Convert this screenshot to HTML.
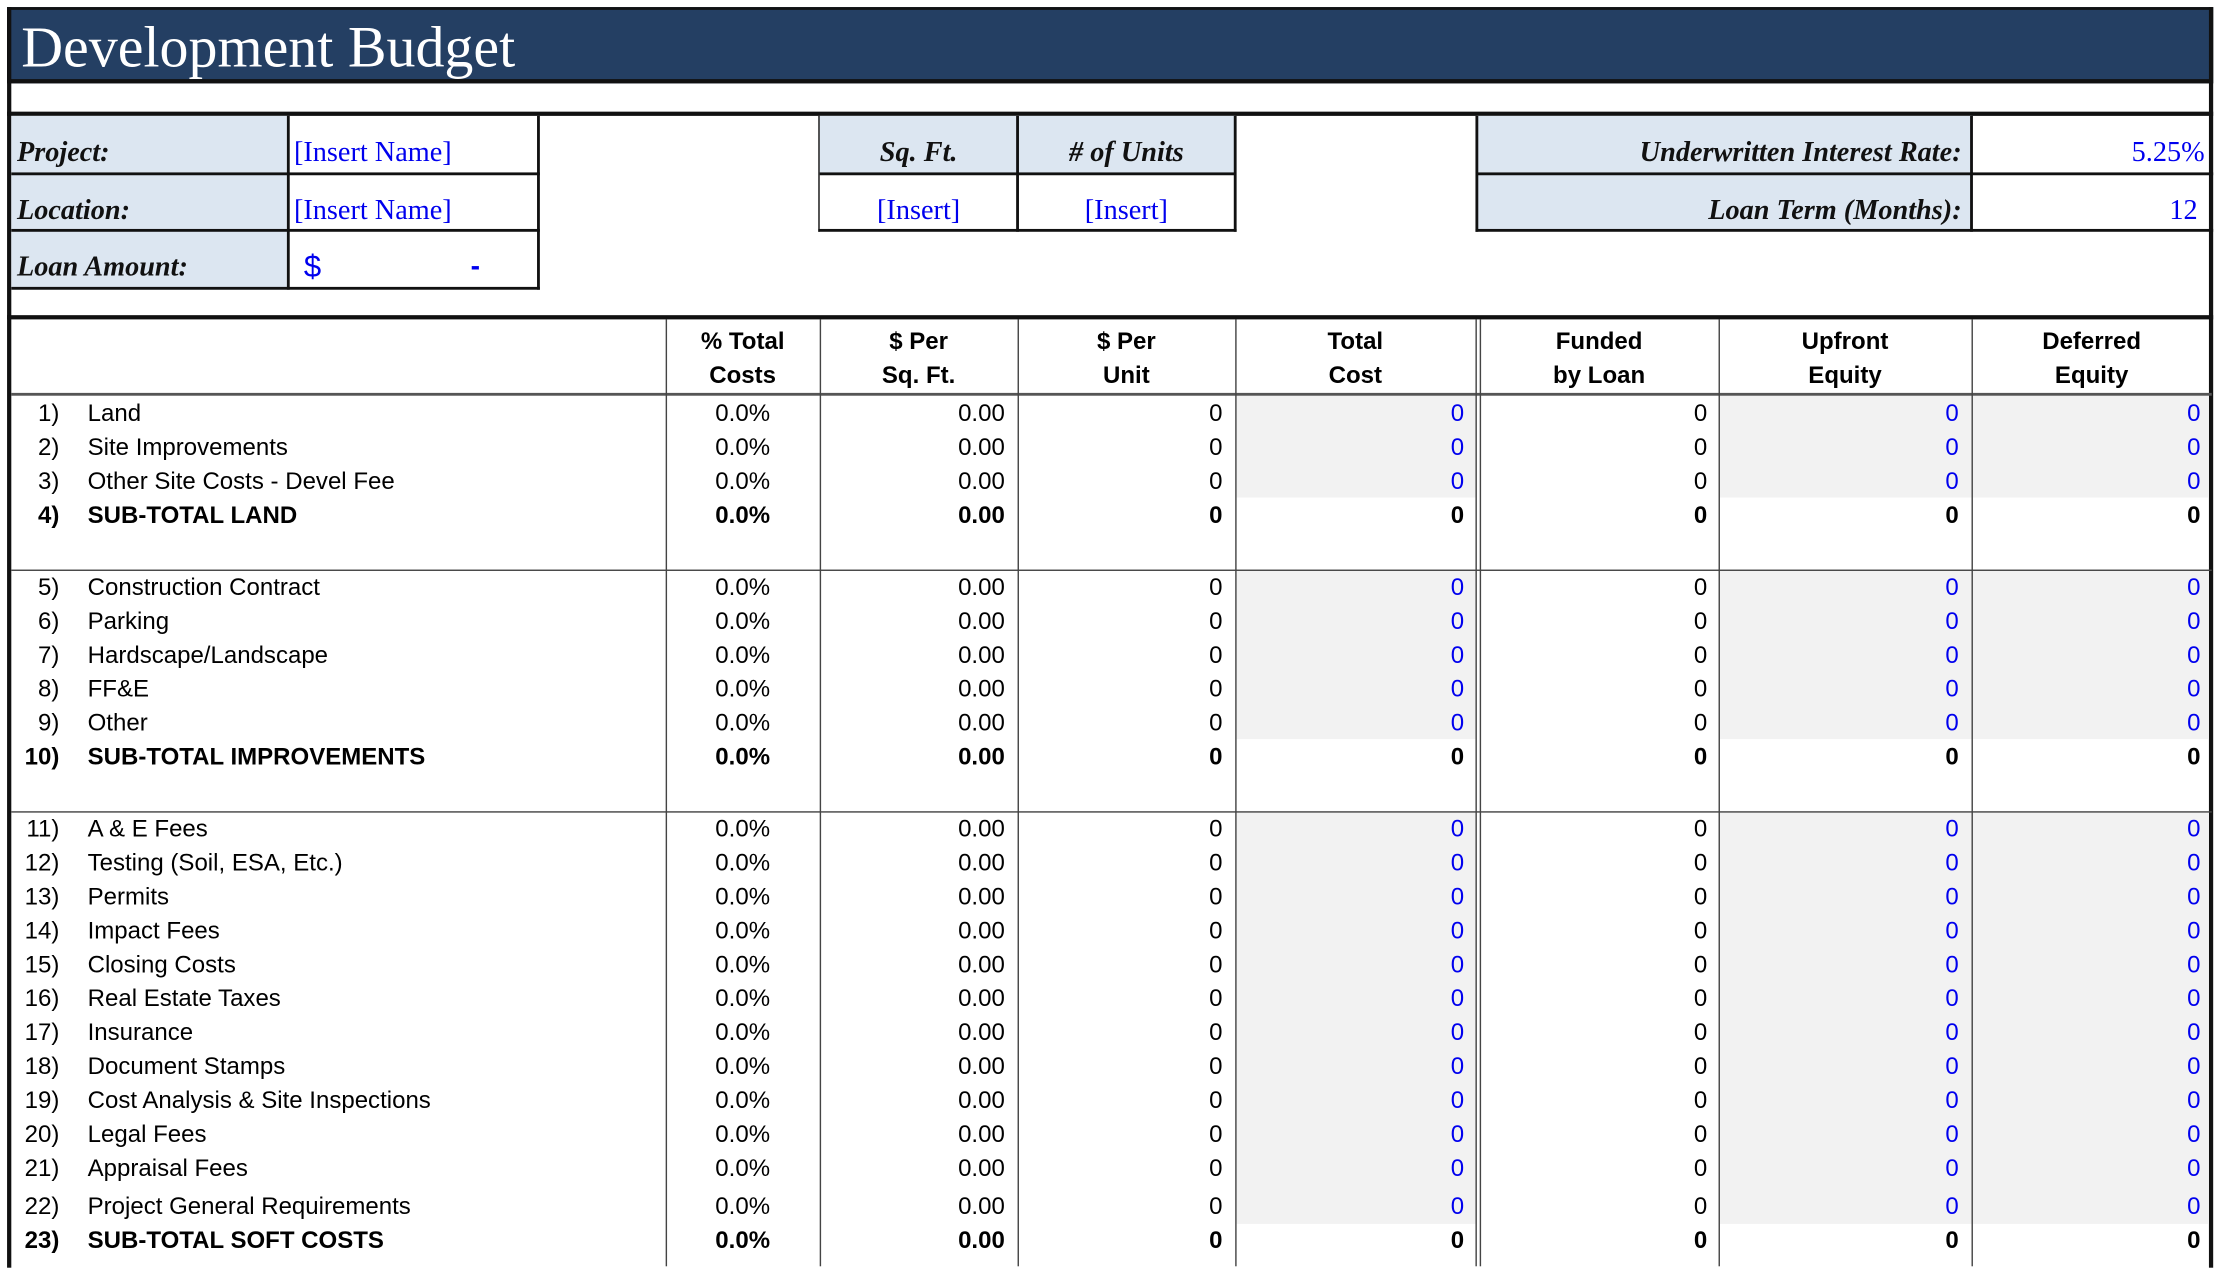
<!DOCTYPE html>
<html><head><meta charset="utf-8"><style>
html,body{margin:0;padding:0;background:#fff;overflow:hidden}
#w{position:absolute;left:0;top:0;width:1568px;height:895px;transform:scale(1.41327);transform-origin:0 0;font-family:"Liberation Sans Narrow","Liberation Sans",sans-serif;}
.a{position:absolute;box-sizing:border-box}
.hl{position:absolute;height:0;border-top:1px solid #444}
.vl{position:absolute;width:0;border-left:1px solid #444}
.lab{font-family:"Liberation Serif",serif;font-weight:bold;font-style:italic;font-size:20px;color:#111}
.ser{font-family:"Liberation Serif",serif;font-size:20px}
.t{position:absolute;font-size:17px;line-height:24px;white-space:nowrap;color:#000}
.r{text-align:right}
.c{text-align:center}
.b{font-weight:bold}
.hd{position:absolute;font-weight:bold;font-size:17px;line-height:24px;text-align:center}
.blue{color:#0000ee !important}
</style></head><body><div id="w">
<div class="a" style="left:5px;top:5px;width:1561px;height:54px;background:#243F63;border:2px solid #111;border-bottom:3px solid #111"></div>
<div class="a" style="left:15px;top:8px;font-family:'Liberation Serif',serif;font-size:41px;color:#fff;line-height:50px">Development Budget</div>
<div class="a" style="left:5px;top:5px;width:1561px;height:892px;border-left:3px solid #111;border-right:3px solid #111"></div>
<div class="a" style="left:5px;top:79px;width:1561px;height:3px;background:#111"></div>
<div class="a" style="left:5px;top:223px;width:1561px;height:3px;background:#111"></div>
<div class="a" style="left:8px;top:82px;width:195px;height:123px;background:#DCE6F1"></div>
<div class="a" style="left:580px;top:82px;width:294px;height:41px;background:#DCE6F1"></div>
<div class="a" style="left:1045px;top:82px;width:350px;height:81px;background:#DCE6F1"></div>
<div class="a" style="left:8px;top:82px;width:374px;height:123px;border-right:2px solid #111;border-bottom:2px solid #111"></div>
<div class="vl" style="left:203px;top:82px;height:123px;border-left:2px solid #111"></div>
<div class="hl" style="left:8px;top:122px;width:374px;border-top:2px solid #111"></div>
<div class="hl" style="left:8px;top:162px;width:374px;border-top:2px solid #111"></div>
<div class="a" style="left:579px;top:82px;width:296px;height:82px;border-left:1px solid #111;border-right:2px solid #111;border-bottom:2px solid #111"></div>
<div class="vl" style="left:719px;top:82px;height:82px;border-left:2px solid #111"></div>
<div class="hl" style="left:580px;top:122px;width:294px;border-top:2px solid #111"></div>
<div class="a" style="left:1044px;top:82px;width:522px;height:82px;border-left:2px solid #111;border-bottom:2px solid #111"></div>
<div class="vl" style="left:1394px;top:82px;height:82px;border-left:2px solid #111"></div>
<div class="hl" style="left:1045px;top:122px;width:521px;border-top:2px solid #111"></div>
<div class="a lab" style="left:12px;top:97px">Project:</div>
<div class="a lab" style="left:12px;top:138px">Location:</div>
<div class="a lab" style="left:12px;top:178px">Loan Amount:</div>
<div class="a ser blue" style="left:208px;top:97px">[Insert Name]</div>
<div class="a ser blue" style="left:208px;top:138px">[Insert Name]</div>
<div class="a blue" style="left:215px;top:176px;font-size:22px;font-family:'Liberation Sans',sans-serif">$</div>
<div class="a blue b" style="left:333px;top:178px;font-size:20px">-</div>
<div class="a lab c" style="left:580px;top:97px;width:140px">Sq. Ft.</div>
<div class="a lab c" style="left:720px;top:97px;width:154px"># of Units</div>
<div class="a ser blue c" style="left:580px;top:138px;width:140px">[Insert]</div>
<div class="a ser blue c" style="left:720px;top:138px;width:154px">[Insert]</div>
<div class="a lab r" style="left:1045px;top:97px;width:343px">Underwritten Interest Rate:</div>
<div class="a lab r" style="left:1045px;top:138px;width:343px">Loan Term (Months):</div>
<div class="a ser blue r" style="left:1395px;top:97px;width:165px">5.25%</div>
<div class="a ser blue r" style="left:1395px;top:138px;width:160px">12</div>
<div class="hd" style="left:471px;top:230px;width:109px">% Total<br>Costs</div>
<div class="hd" style="left:580px;top:230px;width:140px">$ Per<br>Sq. Ft.</div>
<div class="hd" style="left:720px;top:230px;width:154px">$ Per<br>Unit</div>
<div class="hd" style="left:874px;top:230px;width:170px">Total<br>Cost</div>
<div class="hd" style="left:1047px;top:230px;width:169px">Funded<br>by Loan</div>
<div class="hd" style="left:1216px;top:230px;width:179px">Upfront<br>Equity</div>
<div class="hd" style="left:1395px;top:230px;width:170px">Deferred<br>Equity</div>
</div>
<script>
var w=document.getElementById('w');
function add(h){w.insertAdjacentHTML('beforeend',h);}
var shadeRanges=[[280,352],[404,523],[575,866]];
shadeRanges.forEach(function(s){
 [[875,169],[1217,178],[1396,167]].forEach(function(c){
  add('<div class="a" style="left:'+c[0]+'px;top:'+s[0]+'px;width:'+c[1]+'px;height:'+(s[1]-s[0])+'px;background:#F2F2F2"></div>');
 });
});
add('<div class="hl" style="left:8px;top:278px;width:1557px;border-top:2px solid #555"></div>');
add('<div class="hl" style="left:8px;top:403px;width:1557px"></div>');
add('<div class="hl" style="left:8px;top:574px;width:1557px"></div>');
[471,580,720,874,1044,1047,1216,1395].forEach(function(x){
 add('<div class="vl" style="left:'+x+'px;top:226px;height:670px"></div>');
});
var rows=[
[292,'1)','Land',0],[316,'2)','Site Improvements',0],[340,'3)','Other Site Costs - Devel Fee',0],[364,'4)','SUB-TOTAL LAND',1],
[415,'5)','Construction Contract',0],[439,'6)','Parking',0],[463,'7)','Hardscape/Landscape',0],[487,'8)','FF&amp;E',0],[511,'9)','Other',0],[535,'10)','SUB-TOTAL IMPROVEMENTS',1],
[586,'11)','A &amp; E Fees',0],[610,'12)','Testing (Soil, ESA, Etc.)',0],[634,'13)','Permits',0],[658,'14)','Impact Fees',0],[682,'15)','Closing Costs',0],[706,'16)','Real Estate Taxes',0],[730,'17)','Insurance',0],[754,'18)','Document Stamps',0],[778,'19)','Cost Analysis &amp; Site Inspections',0],[802,'20)','Legal Fees',0],[826,'21)','Appraisal Fees',0],[853,'22)','Project General Requirements',0],[877,'23)','SUB-TOTAL SOFT COSTS',1]];
rows.forEach(function(r){
 var y=r[0]-11,b=r[3]?' b':'';
 var bl=r[3]?'':' blue';
 add('<div class="t r'+b+'" style="left:8px;top:'+y+'px;width:34px">'+r[1]+'</div>');
 add('<div class="t'+b+'" style="left:62px;top:'+y+'px">'+r[2]+'</div>');
 add('<div class="t c'+b+'" style="left:471px;top:'+y+'px;width:109px">0.0%</div>');
 add('<div class="t r'+b+'" style="left:580px;top:'+y+'px;width:131px">0.00</div>');
 add('<div class="t r'+b+'" style="left:720px;top:'+y+'px;width:145px">0</div>');
 add('<div class="t r'+b+bl+'" style="left:874px;top:'+y+'px;width:162px">0</div>');
 add('<div class="t r'+b+'" style="left:1047px;top:'+y+'px;width:161px">0</div>');
 add('<div class="t r'+b+bl+'" style="left:1216px;top:'+y+'px;width:170px">0</div>');
 add('<div class="t r'+b+bl+'" style="left:1395px;top:'+y+'px;width:162px">0</div>');
});
</script>
</body></html>
